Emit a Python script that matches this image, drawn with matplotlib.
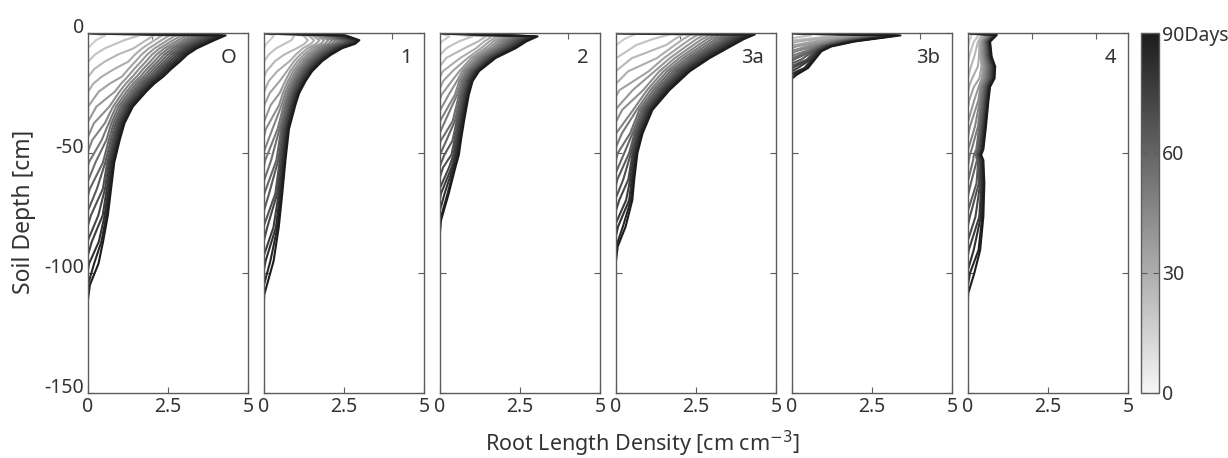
import numpy as np
import matplotlib
matplotlib.use('Agg')
import matplotlib.pyplot as plt
from matplotlib.colors import LinearSegmentedColormap, Normalize
from matplotlib.cm import ScalarMappable

plt.rcParams['font.family'] = ['Noto Sans', 'DejaVu Sans']

# perfis no dia 90 (profundidade em cm, RLD em cm cm-3)
depth_O = [0, -1, -3, -6.4, -9, -11.9, -15, -18.2, -21, -24.4, -30.7, -37.6, -44.6, -54, -65, -76, -87, -96, -105, -111]
rld_O = [0, 4.3, 3.95, 3.4, 3.1, 2.87, 2.6, 2.35, 2.08, 1.82, 1.4, 1.14, 0.99, 0.82, 0.72, 0.62, 0.47, 0.33, 0.12, 0]

depth_1 = [0, -1, -3, -4.5, -6.3, -9, -11.7, -16, -20, -25, -30, -40, -53, -67, -81, -95, -109, -111]
rld_1 = [0, 2.55, 2.98, 2.85, 2.45, 2.1, 1.82, 1.5, 1.3, 1.1, 0.98, 0.78, 0.67, 0.57, 0.46, 0.3, 0.05, 0]

depth_2 = [0, -1.4, -3.5, -6.3, -10.4, -15.9, -20, -25.7, -36.7, -45, -50.7, -56, -67, -78, -83]
rld_2 = [0, 3.05, 2.7, 2.37, 1.74, 1.22, 1.02, 0.9, 0.75, 0.65, 0.59, 0.48, 0.27, 0.06, 0]

depth_3a = [0, -0.6, -2.5, -5, -10.5, -16, -23.8, -32, -41.8, -50, -61, -69.6, -80.7, -89, -95]
rld_3a = [0, 4.34, 4.0, 3.66, 2.92, 2.3, 1.67, 1.14, 0.83, 0.67, 0.57, 0.51, 0.3, 0.09, 0]

depth_3b = [0, -1, -3.5, -5.6, -7.6, -11.1, -14.6, -17.4, -19]
rld_3b = [0, 3.39, 1.97, 1.23, 0.92, 0.71, 0.5, 0.19, 0]

depth_4 = [0, -0.8, -3.6, -9.9, -14, -18.9, -22.4, -28, -39, -48.5, -50.8, -53, -62.6, -76.5, -90.4, -100, -108.5, -111]
rld_4 = [0, 0.9, 0.69, 0.74, 0.85, 0.83, 0.69, 0.64, 0.56, 0.48, 0.41, 0.48, 0.51, 0.48, 0.38, 0.22, 0.03, 0]

panel_names = ['O', '1', '2', '3a', '3b', '4']
depths = [depth_O, depth_1, depth_2, depth_3a, depth_3b, depth_4]
rlds = [rld_O, rld_1, rld_2, rld_3a, rld_3b, rld_4]

days = list(range(5, 91, 5))
last_day = 90
p_growth = 0.4     # quanto rapido a densidade se aproxima do perfil final
ramp_frac = 0.11   # zona logo acima da frente (fracao da profundidade final)

gray = LinearSegmentedColormap.from_list('days', ['#f6f6f6', '#1c1c1c'])
line_gray = LinearSegmentedColormap.from_list('lines', ['#d6d6d6', '#1c1c1c'])
norm = Normalize(0, last_day)

W, H = 1228, 458
fig = plt.figure(figsize=(W / 100, H / 100), dpi=100)

def px_axes(left, top, width, height):
    return fig.add_axes([left / W, 1 - (top + height) / H, width / W, height / H])

spine_c = '#5c5c5c'
text_c = '#333333'

for i, (name, depth, rld) in enumerate(zip(panel_names, depths, rlds)):
    ax = px_axes(88 + 176 * i, 33, 160, 360)
    depth = np.array(depth, dtype=float)
    rld = np.array(rld, dtype=float)
    front = depth.min()
    ramp = ramp_frac * abs(front)
    tau = last_day * depth / front  # dia em que a frente passou por cada profundidade
    for d in days:
        z_front = front * d / last_day
        keep = depth > z_front
        frac = (d - tau[keep]) / (last_day - tau[keep])
        near = np.minimum(1, (depth[keep] - z_front) / ramp)
        x = rld[keep] * frac ** p_growth * near
        ax.plot(np.append(x, 0), np.append(depth[keep], z_front),
                color=line_gray(norm(d)), lw=1.5, solid_joinstyle='round')

    ax.set_xlim(0, 5)
    ax.set_ylim(-150, 0)
    ax.set_xticks([0, 2.5, 5])
    ax.set_xticklabels(['0', '2.5', '5'])
    ax.set_yticks([0, -50, -100, -150])
    if i == 0:
        ax.set_yticklabels(['0', '-50', '-100', '-150'], va='baseline')
    else:
        ax.set_yticklabels([])
    ax.tick_params(direction='in', length=4, width=0.8, color=spine_c,
                   labelcolor=text_c, labelsize=14, right=True, pad=3)
    top = ax.secondary_xaxis('top')
    top.set_xticks([2, 4])
    top.tick_params(direction='in', length=4, width=0.8, color=spine_c, labeltop=False)
    top.spines['top'].set_visible(False)
    for s in ax.spines.values():
        s.set_color(spine_c)
        s.set_linewidth(1.0)
    ax.text(1 - 12 / 160, 1 - 25 / 360, name, transform=ax.transAxes,
            ha='right', va='center', fontsize=14.5, color=text_c)

cax = px_axes(1141, 33, 18, 360)
cb = fig.colorbar(ScalarMappable(norm=norm, cmap=gray), cax=cax)
cb.set_ticks([0, 30, 60, 90])
cb.set_ticklabels(['0', '30', '60', '90Days'])
cax.tick_params(direction='in', length=4, width=0.8, color=spine_c,
                labelcolor=text_c, labelsize=14, left=True, right=True, pad=2)
cb.outline.set_edgecolor(spine_c)
cb.outline.set_linewidth(1.0)

fig.text(642 / W, 1 - 451 / H, 'Root Length Density [cm cm$^{-3}$]', ha='center',
         va='baseline', fontsize=15.5, color=text_c)
fig.text(24 / W, 1 - 212 / H, 'Soil Depth [cm]', rotation=90, ha='center',
         va='center', fontsize=16.5, color=text_c)

fig.savefig('out.png', dpi=100)
